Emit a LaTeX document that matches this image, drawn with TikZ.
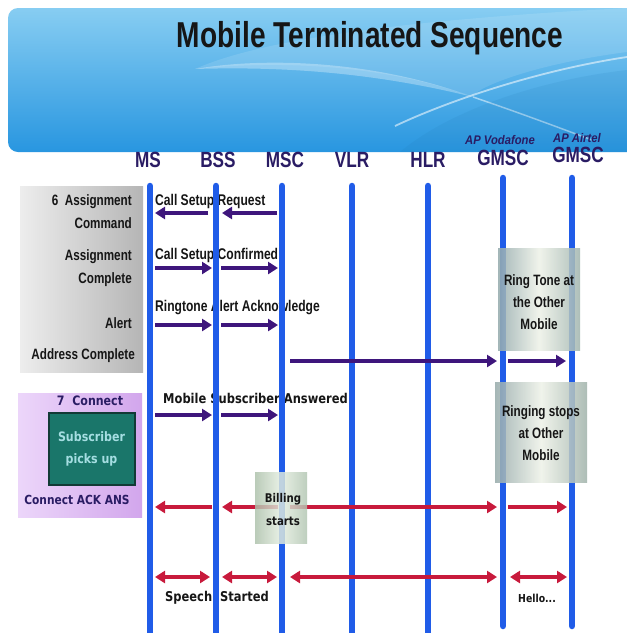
\documentclass[tikz,border=0pt]{standalone}
\usepackage{fontspec}
\usetikzlibrary{arrows.meta,calc}
\setmainfont{Liberation Sans}
\newfontfamily\nar[FakeStretch=0.78]{Liberation Sans}
\newfontfamily\narit[FakeStretch=0.9]{Liberation Sans}
\newfontfamily\tah[FakeStretch=0.85]{DejaVu Sans}

\definecolor{lifeblue}{RGB}{32,92,232}
\definecolor{hdrcol}{RGB}{42,28,100}
\definecolor{arrpurple}{RGB}{62,22,124}
\definecolor{arrred}{RGB}{200,26,60}
\definecolor{teal}{RGB}{26,118,106}
\definecolor{tealedge}{RGB}{18,58,54}
\definecolor{tealtext}{RGB}{165,222,226}
\definecolor{bannertop}{RGB}{135,205,242}
\definecolor{bannerbot}{RGB}{40,150,224}
\definecolor{txtdark}{RGB}{22,22,22}

\tikzset{
  lifeline/.style={line width=6.5pt, draw=lifeblue, line cap=round},
  hdr/.style={font=\nar\bfseries\fontsize{22}{23}\selectfont, text=hdrcol, inner sep=0pt},
  aplbl/.style={font=\narit\bfseries\itshape\fontsize{12.5}{13}\selectfont, text=hdrcol, inner sep=0pt},
  tipP/.tip={Triangle[length=10pt,width=12pt]},
  msgp/.style={line width=4pt, draw=arrpurple, -tipP},
  msgr/.style={line width=4pt, draw=arrred, -tipP},
  msgrr/.style={line width=4pt, draw=arrred, tipP-tipP},
  lbl/.style={font=\nar\bfseries\fontsize{15.5}{17}\selectfont, text=txtdark, anchor=west, inner sep=0pt},
  lbltah/.style={font=\tah\bfseries\fontsize{13.5}{15}\selectfont, text=txtdark, anchor=west, inner sep=0pt},
  sidelbl/.style={font=\nar\bfseries\fontsize{15}{16}\selectfont, text=txtdark, anchor=east, inner sep=0pt},
  notelbl/.style={font=\nar\bfseries\fontsize{15}{22}\selectfont, text=txtdark, align=center, inner sep=0pt},
}

\begin{document}
\begin{tikzpicture}[x=1pt,y=-1pt]
\useasboundingbox (0,0) rectangle (627,633);
\fill[white] (0,0) rectangle (627,633);

% ---- title banner ----
\shade[top color=bannertop, bottom color=bannerbot]
  (627,8) [rounded corners=10pt] -- (8,8) -- (8,152) [sharp corners] -- (627,152) -- cycle;
% light swoosh across the banner
\fill[white, opacity=0.12] (627,8) -- (627,52) .. controls (520,66) and (470,92) .. (473,97)
  .. controls (400,70) and (300,58) .. (195,69) .. controls (260,40) and (400,20) .. (627,8);
\fill[white, opacity=0.3] (195,69) .. controls (270,56) and (380,62) .. (473,97)
  .. controls (380,74) and (290,66) .. (195,69) -- cycle;
\draw[white, opacity=0.5, line width=1.5pt] (473,97) .. controls (520,113) and (560,128) .. (592,140);
\draw[white, opacity=0.55, line width=1.8pt] (395,126) .. controls (450,100) and (540,70) .. (627,57);
\fill[bannerbot!80!black, opacity=0.12] (400,152) .. controls (450,110) and (540,80) .. (627,70) -- (627,152) -- cycle;

\node[font=\nar\bfseries\fontsize{36}{38}\selectfont, text=txtdark, anchor=base, inner sep=0pt]
  (title) at (370,47) {Mobile Terminated Sequence};

% ---- left hand side panels ----
\shade[left color=gray!14, right color=gray!58] (20,186) rectangle (143,372);
\node[sidelbl] (s1) at (132,202) {6\ \ Assignment};
\node[sidelbl] (s2) at (132,223) {Command};
\node[sidelbl] (s3) at (132,257) {Assignment};
\node[sidelbl] (s4) at (132,280) {Complete};
\node[sidelbl] (s5) at (132,323) {Alert};
\node[sidelbl] (s6) at (135,356) {Address Complete};

\shade[left color={rgb,255:red,236;green,214;blue,250}, right color={rgb,255:red,210;green,166;blue,236}]
  (18,393) rectangle (142,517);
\node[font=\tah\bfseries\fontsize{13}{15}\selectfont, text=hdrcol, inner sep=0pt] (conn) at (90,401) {7\ \ Connect};
\node[draw=tealedge, line width=2pt, fill=teal, minimum width=86pt, minimum height=72pt,
      font=\tah\bfseries\fontsize{13}{22}\selectfont, text=tealtext, align=center] (pick) at (91.5,448.5)
  {Subscriber\\picks up};
\node[font=\tah\bfseries\fontsize{12.5}{15}\selectfont, text=hdrcol, inner sep=0pt] (ack) at (77,500) {Connect ACK ANS};

% ---- entity headers ----
\node[hdr] (hMS)  at (148,160) {MS};
\node[hdr] (hBSS) at (218,160) {BSS};
\node[hdr] (hMSC) at (285,160) {MSC};
\node[hdr] (hVLR) at (352,160) {VLR};
\node[hdr] (hHLR) at (428,160) {HLR};
\node[hdr] (hGV)  at (503,158) {GMSC};
\node[hdr] (hGA)  at (578,155) {GMSC};
\node[aplbl] (apv) at (500,140) {AP Vodafone};
\node[aplbl] (apa) at (577,138) {AP Airtel};

% ---- message labels ----
\node[lbl] (m1) at (155,201) {Call Setup Request};
\node[lbl] (m2) at (155,255) {Call Setup Confirmed};
\node[lbl] (m3) at (155,308) {Ringtone Alert Acknowledge};
\node[lbltah] (m5) at (163,398) {Mobile Subscriber Answered};
\node[lbltah] (m7) at (165,598) {Speech\ \ Started};
\node[font=\tah\bfseries\fontsize{11}{13}\selectfont, text=txtdark, inner sep=0pt] (hello) at (537,598) {Hello...};

% ---- lifelines ----
\coordinate (ms)  at (150,186);  \coordinate (msE)  at (150,640);
\coordinate (bss) at (216,186);  \coordinate (bssE) at (216,640);
\coordinate (msc) at (282,186);  \coordinate (mscE) at (282,640);
\coordinate (vlr) at (352,186);  \coordinate (vlrE) at (352,640);
\coordinate (hlr) at (428,186);  \coordinate (hlrE) at (428,640);
\coordinate (gv)  at (503,178);  \coordinate (gvE)  at (503,626);
\coordinate (ga)  at (572,178);  \coordinate (gaE)  at (572,626);
\foreach \a/\b in {ms/msE,bss/bssE,msc/mscE,vlr/vlrE,hlr/hlrE,gv/gvE,ga/gaE}
  \draw[lifeline] (\a) -- (\b);

% ---- message rows ----
\coordinate (r1) at (0,213);
\coordinate (r2) at (0,268);
\coordinate (r3) at (0,325);
\coordinate (r4) at (0,361);
\coordinate (r5) at (0,415);
\coordinate (r6) at (0,507);
\coordinate (r7) at (0,577);

% call setup request
\draw[msgp] ($(msc|-r1)+(-5,0)$) -- ($(bss|-r1)+(6,0)$);
\draw[msgp] ($(bss|-r1)+(-8,0)$) -- ($(ms|-r1)+(5,0)$);
% call setup confirmed / alert / answered
\foreach \r in {r2,r3,r5}{
  \draw[msgp] ($(ms|-\r)+(5,0)$) -- ($(bss|-\r)+(-4,0)$);
  \draw[msgp] ($(bss|-\r)+(5,0)$) -- ($(msc|-\r)+(-4,0)$);
}
% address complete
\draw[msgp] ($(msc|-r4)+(8,0)$) -- ($(gv|-r4)+(-6,0)$);
\draw[msgp] ($(gv|-r4)+(5,0)$) -- ($(ga|-r4)+(-6,0)$);
% connect ack / answer
\draw[msgr] ($(bss|-r6)+(-4,0)$) -- ($(ms|-r6)+(5,0)$);
\draw[msgr] ($(msc|-r6)+(-4,0)$) -- ($(bss|-r6)+(6,0)$);
\draw[msgr] ($(msc|-r6)+(8,0)$) -- ($(gv|-r6)+(-6,0)$);
\draw[msgr] ($(gv|-r6)+(5,0)$) -- ($(ga|-r6)+(-5,0)$);
% speech path
\draw[msgrr] ($(ms|-r7)+(5,0)$) -- ($(bss|-r7)+(-6,0)$);
\draw[msgrr] ($(bss|-r7)+(6,0)$) -- ($(msc|-r7)+(-5,0)$);
\draw[msgrr] ($(msc|-r7)+(8,0)$) -- ($(gv|-r7)+(-6,0)$);
\draw[msgrr] ($(gv|-r7)+(7,0)$) -- ($(ga|-r7)+(-5,0)$);

% ---- state notes ----
\shade[left color={rgb,255:red,148;green,170;blue,172}, right color={rgb,255:red,160;green,180;blue,174},
       middle color={rgb,255:red,238;green,242;blue,232}, opacity=0.85] (498,248) rectangle (580,350);
\node[notelbl] (ring) at (539,302) {Ring Tone at\\the Other\\Mobile};

\shade[left color={rgb,255:red,150;green,170;blue,170}, right color={rgb,255:red,160;green,178;blue,170},
       middle color={rgb,255:red,238;green,242;blue,232}, opacity=0.85] (495,382) rectangle (587,482);
\node[notelbl] (stop) at (541,433) {Ringing stops\\at Other\\Mobile};

\shade[left color={rgb,255:red,172;green,192;blue,170}, right color={rgb,255:red,176;green,196;blue,176},
       middle color={rgb,255:red,228;green,238;blue,224}, opacity=0.82] (255,472) rectangle (307,543);
\node[font=\tah\bfseries\fontsize{12}{23}\selectfont, text=txtdark, align=center, inner sep=0pt] (bill) at (283,510)
  {Billing\\starts};
\end{tikzpicture}
\end{document}
